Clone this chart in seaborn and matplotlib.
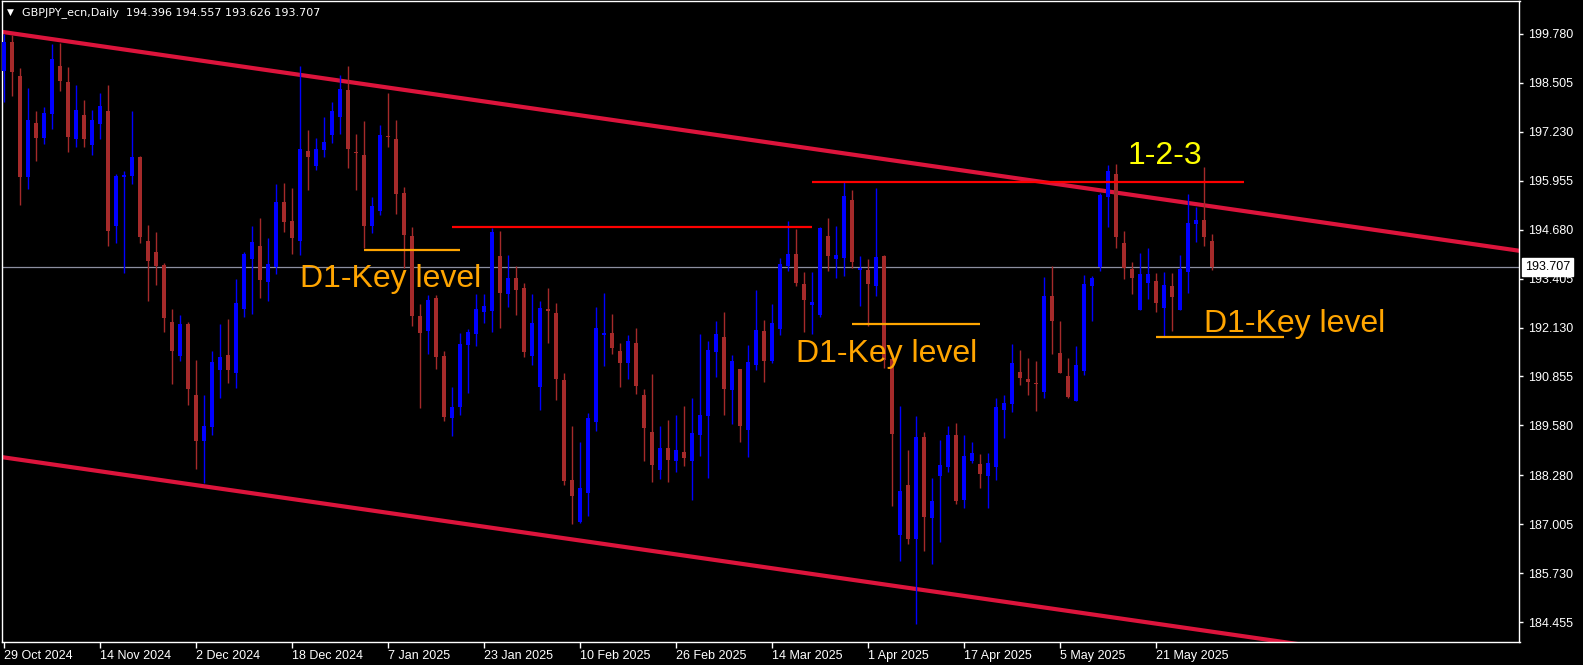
import numpy as np
import pandas as pd
import matplotlib
matplotlib.use("Agg")
import matplotlib.pyplot as plt
import matplotlib.transforms as mtransforms
import seaborn as sns

# ---------------- data ----------------
opens = [198.82, 199.57, 198.68, 196.06, 197.46, 197.08, 197.70, 198.94, 198.53, 197.05,
         197.67, 196.88, 197.44, 197.77, 194.78, 196.04, 196.09, 196.57, 194.38, 194.10,
         193.76, 192.27, 191.40, 192.22, 190.37, 189.16, 189.55, 191.01, 191.41, 190.95,
         192.61, 193.92, 194.25, 193.32, 193.71, 195.40, 194.91, 194.38, 196.73, 196.34,
         196.76, 197.15, 197.62, 198.32, 196.71, 196.63, 194.78, 195.17, 197.12, 197.04,
         195.64, 194.51, 192.43, 192.04, 192.90, 191.39, 189.77, 190.06, 191.67, 191.96,
         192.53, 192.56, 193.99, 193.00, 193.42, 193.16, 191.39, 190.58, 192.60, 192.51,
         190.76, 188.16, 187.06, 187.82, 189.67, 191.94, 191.99, 191.52, 191.21, 191.73,
         190.37, 189.41, 188.42, 188.99, 188.65, 188.89, 188.65, 189.33, 189.82, 191.49,
         191.88, 190.50, 191.05, 189.46, 191.15, 192.04, 191.26, 192.09, 193.73, 194.05,
         193.26, 192.72, 192.46, 194.51, 193.92, 193.94, 195.45, 193.63, 193.63, 193.21,
         193.99, 191.31, 186.72, 188.03, 186.62, 189.28, 187.17, 188.26, 188.50, 189.33,
         187.64, 188.65, 188.57, 188.26, 188.50, 189.98, 190.14, 190.97, 190.79, 190.68,
         190.45, 192.95, 191.47, 190.87, 190.22, 191.00, 193.21, 193.71, 195.53, 196.13,
         194.33, 193.65, 192.59, 193.29, 193.34, 192.64, 193.21, 192.59, 193.58, 194.83,
         194.93, 194.396]
highs = [199.79, 199.75, 198.88, 198.36, 197.77, 197.87, 199.52, 199.53, 198.92, 198.45,
         198.06, 197.80, 198.23, 198.45, 196.13, 196.21, 197.77, 196.60, 194.80, 194.62,
         193.80, 192.60, 192.45, 192.28, 191.28, 190.37, 191.52, 192.22, 192.35, 193.39,
         194.09, 194.78, 194.98, 194.46, 195.87, 195.90, 195.77, 198.94, 197.28, 197.07,
         197.62, 198.01, 198.71, 198.94, 197.17, 197.51, 195.53, 197.41, 198.24, 197.54,
         195.79, 194.75, 192.74, 192.98, 192.98, 191.52, 190.58, 191.99, 192.09, 193.00,
         193.00, 194.72, 194.65, 194.02, 193.73, 193.29, 193.00, 192.82, 193.16, 192.77,
         190.94, 189.56, 189.15, 189.90, 192.66, 193.03, 192.48, 191.73, 191.94, 192.12,
         190.53, 190.92, 189.56, 189.72, 189.85, 190.09, 190.29, 191.96, 191.78, 192.30,
         192.53, 191.41, 191.05, 191.67, 193.11, 192.33, 192.74, 193.94, 194.91, 194.70,
         193.58, 193.58, 194.75, 194.98, 194.77, 195.92, 195.71, 193.99, 193.92, 195.77,
         194.02, 191.31, 190.09, 188.94, 189.82, 189.41, 188.21, 189.20, 189.56, 189.64,
         189.33, 189.15, 188.83, 188.86, 190.29, 190.37, 191.70, 191.54, 191.34, 191.26,
         193.45, 193.73, 192.30, 191.34, 191.65, 193.50, 193.47, 195.63, 196.36, 196.39,
         194.65, 193.84, 194.07, 194.20, 193.55, 193.58, 193.55, 194.02, 195.61, 195.27,
         196.31, 194.557]
lows = [198.01, 198.17, 195.33, 195.74, 196.48, 196.92, 197.30, 198.30, 196.71, 196.84,
        196.84, 196.62, 197.05, 194.26, 194.32, 193.54, 195.88, 194.34, 192.83, 193.25,
        192.02, 190.67, 191.27, 190.12, 188.45, 188.07, 189.34, 190.30, 190.69, 190.56,
        192.41, 192.48, 192.91, 192.82, 193.53, 194.62, 194.05, 194.02, 195.71, 196.24,
        196.56, 196.94, 197.18, 196.29, 195.71, 194.19, 194.59, 195.06, 196.83, 195.09,
        193.67, 192.17, 190.03, 191.44, 191.05, 189.69, 189.30, 189.85, 190.42, 191.65,
        192.25, 192.01, 192.12, 192.66, 192.46, 191.36, 191.15, 189.98, 191.73, 190.24,
        188.03, 187.01, 187.04, 187.22, 189.43, 191.13, 191.44, 190.58, 190.79, 190.40,
        188.65, 188.10, 188.18, 188.10, 188.37, 188.52, 187.64, 188.78, 188.21, 190.84,
        189.85, 189.62, 189.15, 188.76, 191.02, 190.71, 191.21, 191.93, 193.60, 193.21,
        192.01, 191.96, 192.40, 193.60, 193.42, 193.47, 193.68, 192.69, 192.17, 192.95,
        191.08, 187.48, 186.05, 186.49, 184.41, 186.31, 185.97, 186.54, 188.37, 187.53,
        187.43, 188.60, 187.95, 187.43, 188.16, 189.25, 189.93, 190.63, 190.37, 189.96,
        190.29, 191.44, 190.94, 190.29, 190.21, 190.89, 192.30, 193.60, 194.75, 194.20,
        193.39, 193.00, 192.58, 192.87, 192.53, 191.91, 192.04, 192.58, 193.03, 194.36,
        194.25, 193.626]
closes = [199.58, 198.79, 196.06, 197.54, 197.08, 197.72, 199.12, 198.56, 197.10, 197.80,
          197.05, 197.54, 197.90, 194.65, 196.08, 196.10, 196.57, 194.50, 193.87, 193.74,
          192.39, 191.53, 192.22, 190.54, 189.18, 189.56, 191.23, 191.36, 191.01, 192.77,
          194.05, 194.36, 193.37, 193.79, 195.40, 194.88, 194.46, 196.78, 196.57, 196.78,
          196.96, 197.77, 198.34, 196.78, 196.67, 194.78, 195.30, 197.15, 197.09, 195.61,
          194.54, 192.43, 191.99, 192.85, 191.36, 189.80, 190.06, 191.70, 192.01, 192.61,
          192.69, 194.62, 193.03, 193.42, 193.11, 191.49, 192.25, 192.64, 192.57, 190.79,
          188.13, 187.74, 187.95, 189.77, 192.12, 191.99, 191.60, 191.21, 191.78, 190.61,
          189.51, 188.55, 188.99, 188.68, 188.94, 188.73, 189.38, 189.85, 191.54, 191.96,
          190.53, 191.26, 189.56, 191.23, 192.07, 191.26, 192.25, 193.78, 194.05, 193.29,
          192.85, 192.79, 194.72, 193.99, 194.02, 195.56, 193.84, 193.69, 193.26, 193.97,
          191.28, 189.36, 187.87, 186.62, 189.28, 187.19, 187.61, 188.55, 189.33, 187.61,
          188.78, 188.86, 188.31, 188.60, 190.06, 190.16, 191.21, 190.81, 190.71, 190.66,
          192.95, 192.30, 190.95, 190.32, 191.15, 193.26, 193.42, 195.58, 196.21, 194.49,
          193.68, 193.42, 193.52, 193.52, 192.77, 193.24, 192.93, 193.65, 194.85, 194.93,
          194.49, 193.707]

date_labels = ["29 Oct 2024", "14 Nov 2024", "2 Dec 2024", "18 Dec 2024", "7 Jan 2025",
               "23 Jan 2025", "10 Feb 2025", "26 Feb 2025", "14 Mar 2025", "1 Apr 2025",
               "17 Apr 2025", "5 May 2025", "21 May 2025"]
date_label_bars = [0, 12, 24, 36, 48, 60, 72, 84, 96, 108, 120, 132, 144]

price_ticks = [199.780, 198.505, 197.230, 195.955, 194.680, 193.405, 192.130,
               190.855, 189.580, 188.280, 187.005, 185.730, 184.455]

# channel lines: anchor (bar, price) pairs
channel_upper = [(-0.5, 199.84), (189.4, 194.13)]
channel_lower = [(-0.5, 188.76), (189.4, 183.05)]

# horizontal levels: (start bar, end bar, price)
red_levels = [(56, 101, 194.757), (101, 155, 195.934)]
key_levels = [(45, 57, 194.15), (106, 122, 192.22), (144, 160, 191.88)]

# annotations: (bar, price, text)
key_texts = [(37, 193.185, "D1-Key level"), (99, 191.24, "D1-Key level"),
             (150, 192.02, "D1-Key level")]
pattern_text = (140.5, 196.39, "1-2-3")

current_price = 193.707
title_text = "GBPJPY_ecn,Daily  194.396 194.557 193.626 193.707"

# ---------------- styling ----------------
sns.set_theme(style="dark", rc={
    "axes.facecolor": "black", "figure.facecolor": "black",
    "axes.edgecolor": "white", "axes.grid": False,
    "xtick.color": "white", "ytick.color": "white",
    "text.color": "white",
})
plt.rcParams["font.family"] = ["Liberation Sans", "DejaVu Sans"]

W, H = 1583, 665
fig = plt.figure(figsize=(W / 100, H / 100), dpi=100)
ax = fig.add_axes([2 / W, (H - 642) / H, (1519.5 - 2) / W, (642 - 1) / H])

df = pd.DataFrame({"open": opens, "high": highs, "low": lows, "close": closes})
df["bar"] = np.arange(len(df))
df["up"] = df["close"] >= df["open"]
df["color"] = np.where(df["up"], "#0000FF", "#A52A2A")

xmin, xmax = -0.25, 189.44
ymin, ymax = 183.936, 200.637

# channel lines through seaborn
def line_frame(anchors):
    (x0, y0), (x1, y1) = anchors
    slope = (y1 - y0) / (x1 - x0)
    xs = np.array([xmin - 2, xmax + 2])
    return pd.DataFrame({"x": xs, "y": y0 + slope * (xs - x0)})

for anc in (channel_upper, channel_lower):
    d = line_frame(anc)
    sns.lineplot(data=d, x="x", y="y", ax=ax, color="#DC143C", linewidth=3.0,
                 zorder=2, legend=False)

# current price line
ax.axhline(current_price, color="#8C8FA0", linewidth=0.9, zorder=1)

# wicks
ax.vlines(df["bar"], df["low"], df["high"], colors=df["color"], linewidth=1.0, zorder=3)
# bodies
body_lo = np.minimum(df["open"], df["close"])
body_h = np.maximum(np.abs(df["close"] - df["open"]), 0.03)
ax.bar(df["bar"], body_h, bottom=body_lo, width=0.62, color=df["color"],
       linewidth=0, zorder=4)

for x0, x1, p in red_levels:
    ax.hlines(p, x0, x1, colors="#FF0000", linewidth=1.6, zorder=5)
for x0, x1, p in key_levels:
    ax.hlines(p, x0, x1, colors="#FFA500", linewidth=1.6, zorder=5)

for bx, p, t in key_texts:
    ax.text(bx, p, t, color="#FFA500", fontsize=23, ha="left", va="baseline",
            family=["Liberation Sans", "DejaVu Sans"], zorder=6)
ax.text(pattern_text[0], pattern_text[1], pattern_text[2], color="#FFFF00",
        fontsize=23, ha="left", va="baseline",
        family=["Liberation Sans", "DejaVu Sans"], zorder=6)

ax.set_xlim(xmin, xmax)
ax.set_ylim(ymin, ymax)

# axes ticks
ax.set_xticks(date_label_bars)
ax.set_xticklabels(date_labels, ha="left", fontsize=9, color="white")
ax.tick_params(axis="x", direction="out", length=4, width=1, pad=2, colors="white",
               bottom=True)
ax.yaxis.tick_right()
ax.set_yticks(price_ticks)
ax.set_yticklabels([f"{v:.3f}" for v in price_ticks], fontsize=9, color="white")
ax.tick_params(axis="y", direction="out", length=3, width=1, pad=3, colors="white",
               right=True, left=False)
ax.set_xlabel("")
ax.set_ylabel("")
for s in ax.spines.values():
    s.set_color("white")
    s.set_linewidth(1.0)
    s.set_visible(True)

# current price tag
trans = mtransforms.blended_transform_factory(ax.transAxes, ax.transData)
ax.text(1.0036, current_price, f"{current_price:.3f}", transform=trans, fontsize=9,
        color="black", ha="left", va="center", clip_on=False, zorder=10,
        bbox=dict(boxstyle="square,pad=0.25", facecolor="white", edgecolor="white"))

# title
fig.text(7 / W, 1 - 12.5 / H, "\u25BC", fontsize=6.5, color="white", ha="left",
         va="center", family=["DejaVu Sans"])
fig.text(21.5 / W, 1 - 12.5 / H, title_text, fontsize=8, color="white", ha="left",
         va="center", family=["DejaVu Sans"])

fig.savefig("out.png", dpi=100, facecolor="black")
